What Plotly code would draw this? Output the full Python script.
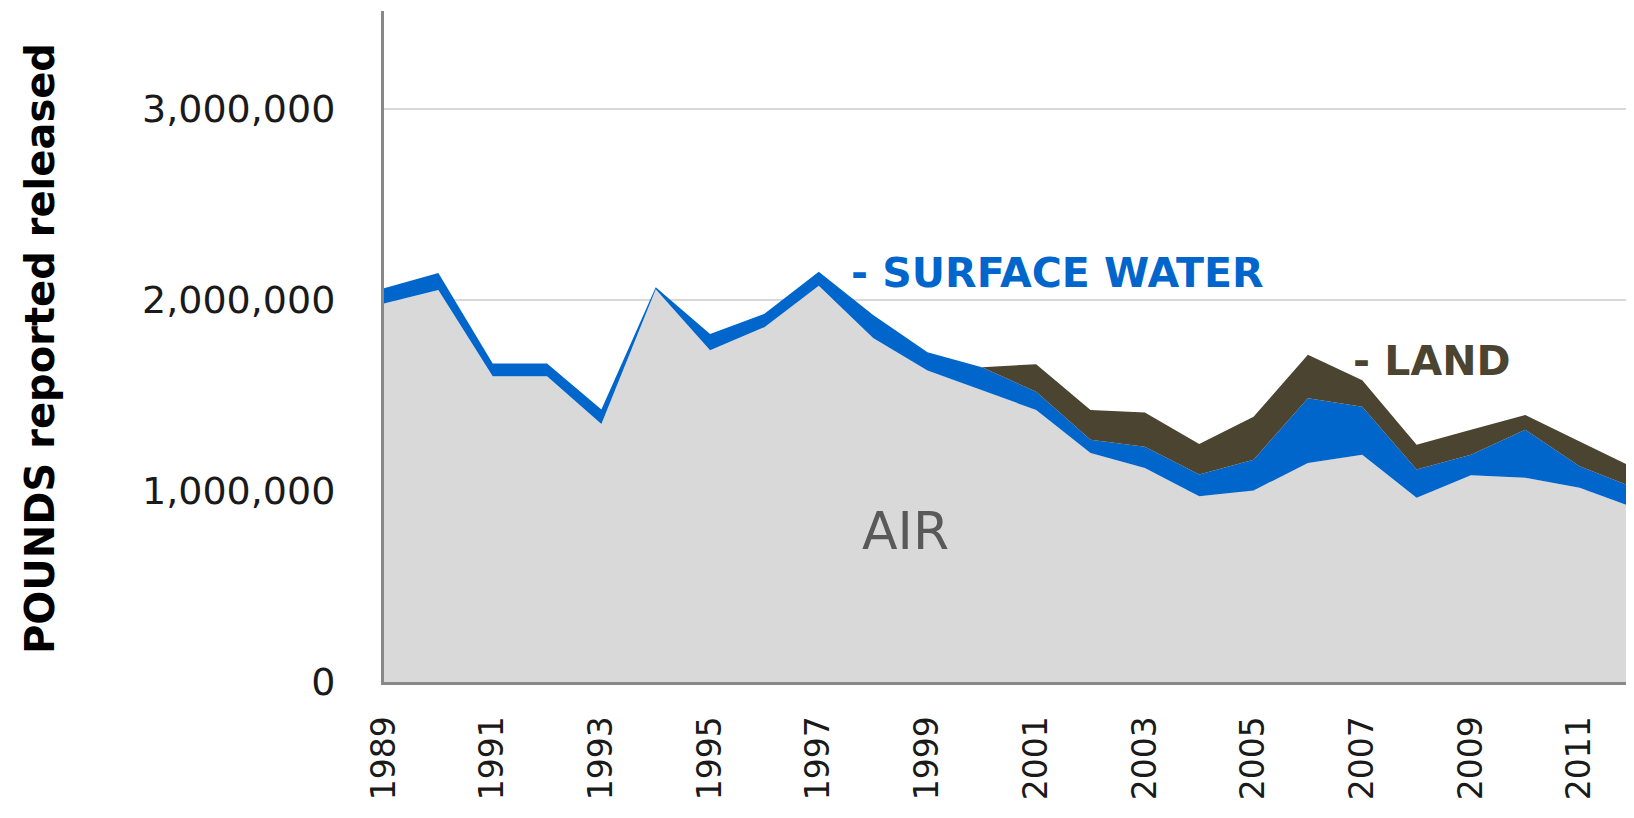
import plotly.graph_objects as go

years = list(range(1989, 2013))
air = [1.98, 2.05, 1.60, 1.60, 1.35, 2.055, 1.735, 1.856, 2.073, 1.80, 1.63, 1.527,
       1.423, 1.198, 1.12, 0.972, 1.002, 1.146, 1.189, 0.964, 1.082, 1.068, 1.016, 0.912]
water = [0.08, 0.09, 0.066, 0.066, 0.075, 0.01, 0.085, 0.07, 0.073, 0.12, 0.095, 0.12,
         0.095, 0.069, 0.11, 0.113, 0.161, 0.338, 0.251, 0.147, 0.107, 0.251, 0.112, 0.104]
land = [0, 0, 0, 0, 0, 0, 0, 0, 0, 0, 0, 0,
        0.144, 0.156, 0.18, 0.16, 0.225, 0.228, 0.139, 0.13, 0.13, 0.078, 0.13, 0.104]
air = [v * 1e6 for v in air]
water = [v * 1e6 for v in water]
land = [v * 1e6 for v in land]

tick_years = list(range(1989, 2012, 2))
y_ticks = [0, 1000000, 2000000, 3000000]
y_tick_text = ["0", "1,000,000", "2,000,000", "3,000,000"]

W, H = 1634, 818
ML, MR, MT, MB = 376, 8, 3, 144
PW, PH = W - ML - MR, H - MT - MB

fig = go.Figure()
fig.add_trace(go.Scatter(x=years, y=air, stackgroup="s", mode="lines",
                         line=dict(width=0, color="#D9D9D9"), fillcolor="#D9D9D9", name="AIR"))
fig.add_trace(go.Scatter(x=years, y=water, stackgroup="s", mode="lines",
                         line=dict(width=0, color="#0066CC"), fillcolor="#0066CC", name="SURFACE WATER"))
fig.add_trace(go.Scatter(x=years, y=land, stackgroup="s", mode="lines",
                         line=dict(width=0, color="#4A4430"), fillcolor="#4A4430", name="LAND"))

fig.add_annotation(x=1997.55, y=2137000, text="- SURFACE WATER", showarrow=False,
                   xanchor="left", yanchor="middle",
                   font=dict(family="DejaVu Sans", size=41, color="#0066CC", weight="bold"))
fig.add_annotation(x=2006.8, y=1677000, text="- LAND", showarrow=False,
                   xanchor="left", yanchor="middle",
                   font=dict(family="DejaVu Sans", size=41, color="#4A4430", weight="bold"))
fig.add_annotation(x=1997.75, y=790000, text="AIR", showarrow=False,
                   xanchor="left", yanchor="middle",
                   font=dict(family="DejaVu Sans", size=52, color="#595959"))
fig.add_annotation(xref="paper", yref="paper", x=(40 - 8 - ML) / PW, y=(H - MB - (349 - 8)) / PH,
                   text="POUNDS reported released", showarrow=False, textangle=-90,
                   xanchor="center", yanchor="middle",
                   font=dict(family="DejaVu Sans", size=40, color="#000000", weight="bold"))

fig.update_layout(
    width=W, height=H,
    margin=dict(l=ML, r=MR, t=MT, b=MB, autoexpand=False),
    paper_bgcolor="white", plot_bgcolor="white",
    showlegend=False,
    font=dict(family="DejaVu Sans", color="#1a1a1a"),
)
fig.update_xaxes(range=[1989, 2012], tickvals=tick_years, ticktext=[str(y) for y in tick_years],
                 tickangle=-90, tickfont=dict(size=33, color="#1a1a1a"),
                 showgrid=False, zeroline=False, showline=True, linecolor="#888888", linewidth=3,
                 ticks="", ticklabelstandoff=18, automargin=False)
fig.update_yaxes(range=[0, 3510000], tickvals=y_ticks, ticktext=y_tick_text,
                 tickfont=dict(size=38, color="#1a1a1a"),
                 showgrid=True, gridcolor="#D9D9D9", gridwidth=2, zeroline=False,
                 showline=True, linecolor="#888888", linewidth=3, ticks="", ticklabelstandoff=38,
                 automargin=False)

fig.write_html("out.html")
